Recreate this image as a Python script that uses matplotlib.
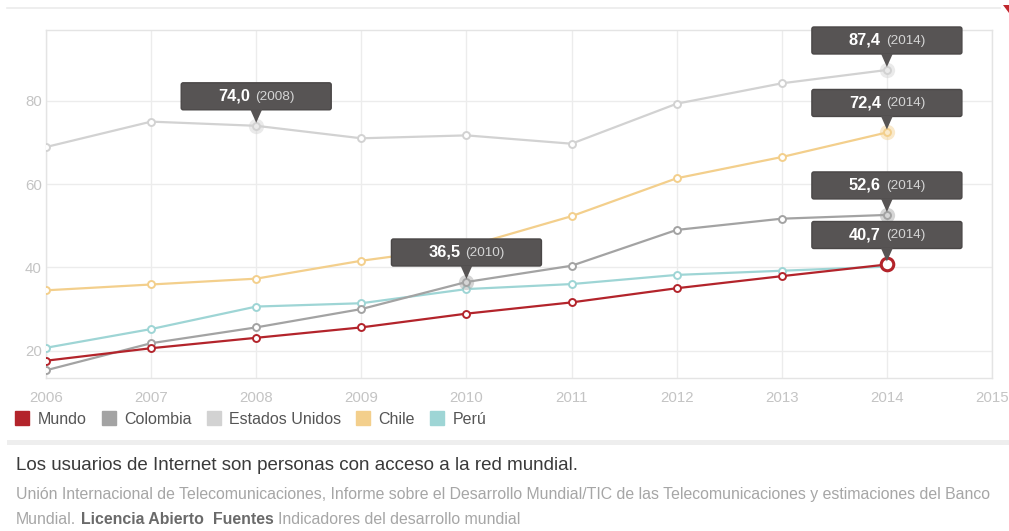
import numpy as np
import matplotlib.pyplot as plt
import matplotlib.transforms as mtransforms
from matplotlib.patches import FancyBboxPatch, Polygon, Rectangle
from matplotlib.lines import Line2D

plt.rcParams['font.family'] = ['Liberation Sans', 'DejaVu Sans']

# data: internet users (per 100 people)
years = [2006, 2007, 2008, 2009, 2010, 2011, 2012, 2013, 2014]
mundo = [17.6, 20.6, 23.1, 25.6, 28.9, 31.6, 35.0, 37.9, 40.7]
colombia = [15.3, 21.8, 25.6, 30.0, 36.5, 40.4, 49.0, 51.7, 52.6]
estados_unidos = [68.9, 75.0, 74.0, 71.0, 71.7, 69.7, 79.3, 84.2, 87.4]
chile = [34.5, 35.9, 37.3, 41.6, 45.0, 52.3, 61.4, 66.5, 72.4]
peru = [20.7, 25.2, 30.6, 31.4, 34.8, 36.0, 38.2, 39.2, 40.2]

series_names = ['Mundo', 'Colombia', 'Estados Unidos', 'Chile', 'Perú']
series_values = [mundo, colombia, estados_unidos, chile, peru]
series_colors = ['#b3242b', '#a3a3a3', '#d2d2d2', '#f3cf8c', '#9ed5d5']
x_ticks = [2006, 2007, 2008, 2009, 2010, 2011, 2012, 2013, 2014, 2015]
y_ticks = [20, 40, 60, 80]

# tooltips shown: (series index, year)
tooltips = [(2, 2008), (1, 2010), (2, 2014), (3, 2014), (1, 2014), (0, 2014)]

fig = plt.figure(figsize=(10.09, 5.31), dpi=100)
W, H = 1009, 531
ax = fig.add_axes([46 / W, 1 - 378 / H, (992 - 46) / W, (378 - 30) / H])

# draw lines, Mundo last so it sits on top
zorders = [6, 5, 3, 3, 4]
for name, vals, col, z in zip(series_names, series_values, series_colors, zorders):
    ax.plot(years, vals, color=col, lw=1.6, marker='o', markersize=5,
            markerfacecolor='white', markeredgecolor=col, markeredgewidth=1.4,
            zorder=z)

ax.set_xlim(2006, 2015)
ax.set_ylim(13.45, 97)
ax.set_xticks(x_ticks)
ax.set_yticks(y_ticks)
ax.grid(True, color='#ececec', lw=1)
ax.set_axisbelow(True)
for s in ax.spines.values():
    s.set_color('#e4e4e4')
    s.set_linewidth(1)
ax.tick_params(length=0, colors='#c4c4c4', labelsize=10.8)
ax.tick_params(axis='x', pad=9)
ax.tick_params(axis='y', pad=3)

# tooltips
box_w, box_h, gap = 150, 27, 16
for si, yr in tooltips:
    val = series_values[si][years.index(yr)]
    col = series_colors[si]
    ax.plot(yr, val, 'o', markersize=11, color=col, alpha=0.45, zorder=7,
            markeredgewidth=0)
    if si == 0:
        ax.plot(yr, val, 'o', markersize=9, markerfacecolor='white',
                markeredgecolor=col, markeredgewidth=2.2, zorder=8)
    tr = mtransforms.IdentityTransform() + mtransforms.ScaledTranslation(yr, val, ax.transData)
    box = FancyBboxPatch((-box_w / 2, gap), box_w, box_h,
                         boxstyle='round,pad=0,rounding_size=2',
                         facecolor='#575454', edgecolor='#4a4747', lw=1,
                         transform=tr, zorder=10, clip_on=False)
    ax.add_patch(box)
    tri = Polygon([(-6, gap + 0.5), (6, gap + 0.5), (0, 3)], closed=True,
                  facecolor='#575454', edgecolor='none', transform=tr,
                  zorder=10, clip_on=False)
    ax.add_patch(tri)
    label = f'{val:.1f}'.replace('.', ',')
    ax.annotate(label, xy=(yr, val), xytext=(-6, gap + box_h / 2),
                textcoords='offset pixels', ha='right', va='center',
                color='white', fontsize=11.8, fontweight='bold', zorder=11,
                annotation_clip=False)
    ax.annotate(f'({yr})', xy=(yr, val), xytext=(-1, gap + box_h / 2 - 0.5),
                textcoords='offset pixels', ha='left', va='center',
                color='#d4d4d4', fontsize=9.7, zorder=11,
                annotation_clip=False)

# legend
handles = [Line2D([], [], marker='s', ls='', markersize=10, color=c)
           for c in series_colors]
ax.legend(handles, series_names, loc='center left',
          bbox_to_anchor=(15 / W, 1 - 419 / H), bbox_transform=fig.transFigure,
          ncol=5, frameon=False, fontsize=11.5, labelcolor='#555555',
          handlelength=0.9, handletextpad=0.5, columnspacing=0.95,
          borderpad=0, borderaxespad=0)

# frame decorations
fig.add_artist(Line2D([7 / W, 1000 / W], [1 - 8 / H, 1 - 8 / H],
                      color='#ebebeb', lw=1.2, transform=fig.transFigure))
fig.add_artist(Polygon([(1003 / W, 1 - 5 / H), (1009 / W, 1 - 5 / H),
                        (1009 / W, 1 - 13 / H)], closed=True,
                       facecolor='#c0272d', transform=fig.transFigure))
fig.add_artist(Rectangle((7 / W, 1 - 445 / H), 1002 / W, 5 / H,
                         facecolor='#eeeeee', edgecolor='none',
                         transform=fig.transFigure))

# notes below
src_size = 11.4
fig.text(16 / W, 1 - 466 / H,
         'Los usuarios de Internet son personas con acceso a la red mundial.',
         fontsize=13.5, color='#3a3a3a', va='center')
fig.text(16 / W, 1 - 494 / H,
         'Unión Internacional de Telecomunicaciones, Informe sobre el Desarrollo '
         'Mundial/TIC de las Telecomunicaciones y estimaciones del Banco',
         fontsize=src_size, color='#a6a6a6', va='center')
t1 = fig.text(16 / W, 1 - 520 / H, 'Mundial.', fontsize=src_size,
              color='#a6a6a6', va='center')
t2 = ax.annotate('Licencia Abierto', xy=(1, 0.5), xycoords=t1,
                 xytext=(5, 0), textcoords='offset pixels', va='center',
                 fontsize=src_size, fontweight='bold', color='#6a6a6a',
                 annotation_clip=False)
t3 = ax.annotate('Fuentes', xy=(1, 0.5), xycoords=t2,
                 xytext=(9, 0), textcoords='offset pixels', va='center',
                 fontsize=src_size, fontweight='bold', color='#6a6a6a',
                 annotation_clip=False)
ax.annotate('Indicadores del desarrollo mundial', xy=(1, 0.5), xycoords=t3,
            xytext=(4, 0), textcoords='offset pixels', va='center',
            fontsize=src_size, color='#a6a6a6', annotation_clip=False)

fig.savefig('out.png', dpi=100)
